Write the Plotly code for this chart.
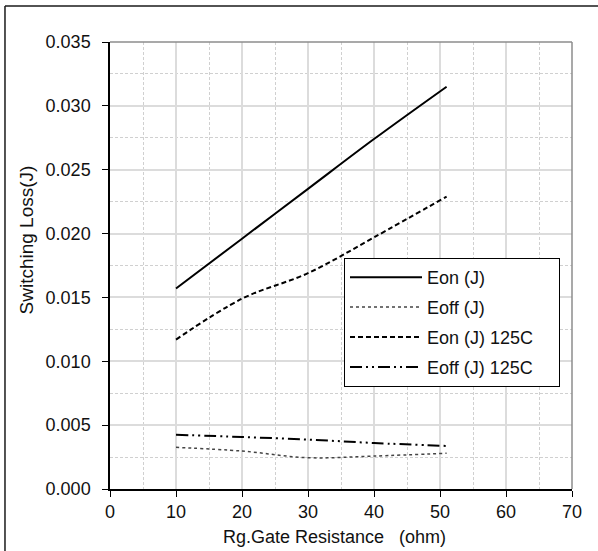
import plotly.graph_objects as go

# Data
rg = [10, 20, 30, 40, 51]
eon = [0.0157, 0.0196, 0.0235, 0.0274, 0.0315]
eoff = [0.00326, 0.00297, 0.00245, 0.00258, 0.00280]
eon_125 = [0.0117, 0.0149, 0.0169, 0.0197, 0.0229]
eoff_125 = [0.00425, 0.00407, 0.00387, 0.00360, 0.00337]

names = ["Eon (J)", "Eoff (J)", "Eon (J) 125C", "Eoff (J) 125C"]
x_title = "Rg.Gate Resistance\u00a0\u00a0\u00a0(ohm)"
y_title = "Switching Loss(J)"

FONT = "Liberation Sans, Arial, sans-serif"
PAD = "\u00a0" * 4

fig = go.Figure()
fig.add_trace(go.Scatter(x=rg, y=eon, name=names[0] + PAD, mode="lines", legendgroup="a",
                         line=dict(color="#000000", width=2, dash="solid", shape="spline")))
fig.add_trace(go.Scatter(x=rg, y=eoff, name=names[1] + PAD, mode="lines", legendgroup="b",
                         line=dict(color="#444444", width=1.5, dash="dot", shape="spline")))
fig.add_trace(go.Scatter(x=rg, y=eon_125, name=names[2] + PAD, mode="lines", legendgroup="c",
                         line=dict(color="#000000", width=2, dash="5px,3px", shape="spline")))
fig.add_trace(go.Scatter(x=rg, y=eoff_125, name=names[3] + PAD, mode="lines", legendgroup="d",
                         line=dict(color="#000000", width=2, dash="12px,4px,2px,4px,2px,4px", shape="spline")))

fig.update_layout(
    width=598, height=551,
    margin=dict(l=110, r=26, t=42, b=62),
    paper_bgcolor="white", plot_bgcolor="white",
    font=dict(family=FONT, size=18, color="#111111"),
    showlegend=True,
    legend=dict(x=0.5065, y=0.5168, xanchor="left", yanchor="top",
                bgcolor="white", bordercolor="#000000", borderwidth=1,
                font=dict(family=FONT, size=18, color="#111111"),
                itemwidth=72,
                tracegroupgap=3.5, traceorder="grouped"),
)

fig.update_xaxes(
    range=[0, 70], dtick=10, tick0=0,
    showline=True, linecolor="#000000", linewidth=1.5,
    ticks="outside", ticklen=6, tickcolor="#000000", tickwidth=1,
    showgrid=True, gridcolor="#dcdcdc", gridwidth=1.5,
    zeroline=False,
    minor=dict(dtick=5, showgrid=True, gridcolor="#d0d0d0", griddash="3px,2px", gridwidth=1),
    tickfont=dict(size=18),
)
fig.update_yaxes(
    range=[0, 0.035], dtick=0.005, tick0=0, tickformat=".3f",
    showline=True, linecolor="#000000", linewidth=1.5,
    ticks="outside", ticklen=6, tickcolor="#000000", tickwidth=1,
    ticklabelstandoff=8,
    showgrid=True, gridcolor="#dcdcdc", gridwidth=1.5,
    zeroline=False,
    minor=dict(dtick=0.0025, showgrid=True, gridcolor="#d0d0d0", griddash="3px,2px", gridwidth=1),
    tickfont=dict(size=18),
)

# axis titles
fig.add_annotation(text=x_title, xref="paper", yref="paper", x=0.487, y=-0.1074,
                   xanchor="center", yanchor="middle", showarrow=False,
                   font=dict(family=FONT, size=18, color="#111111"))
fig.add_annotation(text=y_title, xref="paper", yref="paper", x=-0.1818, y=0.556,
                   xanchor="center", yanchor="middle", showarrow=False, textangle=-90,
                   font=dict(family=FONT, size=19, color="#111111"))

# gray top/right frame of plot area
fig.add_shape(type="line", xref="paper", yref="paper", x0=0, x1=1, y0=1, y1=1,
              line=dict(color="#8c8c8c", width=1.5))
fig.add_shape(type="line", xref="paper", yref="paper", x0=1, x1=1, y0=0, y1=1,
              line=dict(color="#8c8c8c", width=1.5))
# outer chart border (top and left visible)
fig.add_shape(type="line", xref="paper", yref="paper", x0=-0.2273, x1=1.06, y0=1.0805, y1=1.0805,
              line=dict(color="#1a1a1a", width=1.5))
fig.add_shape(type="line", xref="paper", yref="paper", x0=-0.2273, x1=-0.2273, y0=-0.15, y1=1.0805,
              line=dict(color="#1a1a1a", width=1.5))

fig.write_html("out.html")
